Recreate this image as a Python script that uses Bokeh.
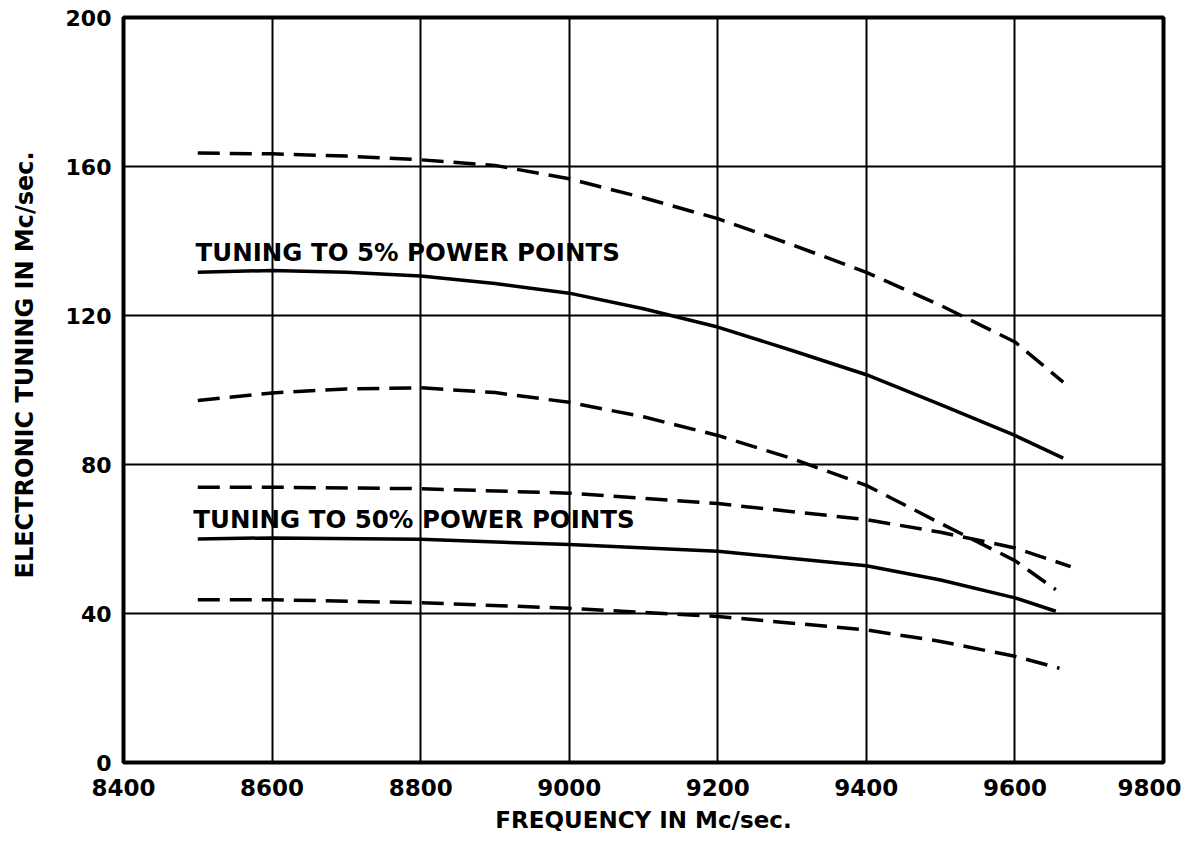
from bokeh.plotting import figure
from bokeh.models import FixedTicker, Label
from bokeh.embed import file_html
from bokeh.resources import INLINE

# ---- data ----
x_ticks = [8400, 8600, 8800, 9000, 9200, 9400, 9600, 9800]
y_ticks = [0, 40, 80, 120, 160, 200]

# 5 % power points: upper dashed, solid, lower dashed
f5_upper = [8500, 8600, 8700, 8800, 8900, 9000, 9100, 9200, 9300, 9400, 9500, 9600, 9665]
v5_upper = [163.6, 163.4, 162.8, 161.8, 160.3, 156.7, 151.6, 146.0, 139.0, 131.6, 122.7, 112.9, 102.1]

f5_mid = [8500, 8600, 8700, 8800, 8900, 9000, 9100, 9200, 9300, 9400, 9500, 9600, 9665]
v5_mid = [131.6, 132.1, 131.6, 130.6, 128.6, 126.0, 121.8, 116.9, 110.6, 104.1, 96.1, 87.8, 81.7]

f5_lower = [8500, 8600, 8700, 8800, 8900, 9000, 9100, 9200, 9300, 9400, 9500, 9600, 9655]
v5_lower = [97.2, 99.2, 100.3, 100.6, 99.3, 96.7, 92.8, 87.8, 81.6, 74.4, 64.2, 54.2, 46.4]

# 50 % power points: upper dashed, solid, lower dashed
f50_upper = [8500, 8600, 8800, 9000, 9200, 9400, 9500, 9600, 9675]
v50_upper = [73.9, 73.9, 73.5, 72.3, 69.5, 65.2, 61.8, 57.6, 52.6]

f50_mid = [8500, 8600, 8800, 9000, 9200, 9400, 9500, 9600, 9655]
v50_mid = [60.0, 60.3, 59.9, 58.5, 56.7, 52.8, 49.0, 44.2, 40.6]

f50_lower = [8500, 8600, 8800, 9000, 9200, 9400, 9500, 9600, 9660]
v50_lower = [43.7, 43.7, 42.9, 41.4, 39.2, 35.6, 32.5, 28.5, 25.3]

label_5 = "TUNING TO 5% POWER POINTS"
label_50 = "TUNING TO 50% POWER POINTS"
x_title = "FREQUENCY IN Mc/sec."
y_title = "ELECTRONIC TUNING IN Mc/sec."

FONT = "DejaVu Sans"
NBSP = "\u00a0"

p = figure(frame_width=1040, frame_height=745,
           x_range=(x_ticks[0], x_ticks[-1]), y_range=(y_ticks[0], y_ticks[-1]),
           output_backend="svg", toolbar_location=None,
           min_border_left=123, min_border_top=17, min_border_right=18, min_border_bottom=76)

p.background_fill_color = "white"
p.border_fill_color = "white"
p.outline_line_color = "black"
p.outline_line_width = 4

# grids
p.xgrid.ticker = FixedTicker(ticks=x_ticks)
p.ygrid.ticker = FixedTicker(ticks=y_ticks)
for g in (p.xgrid, p.ygrid):
    g.grid_line_color = "black"
    g.grid_line_width = 2
    g.grid_line_alpha = 1.0

# axes
p.xaxis.ticker = FixedTicker(ticks=x_ticks)
p.yaxis.ticker = FixedTicker(ticks=y_ticks)
for ax in (p.xaxis, p.yaxis):
    ax.axis_line_color = None
    ax.major_tick_line_color = None
    ax.minor_tick_line_color = None
    ax.major_tick_in = 0
    ax.major_tick_out = 0
    ax.major_label_text_font = FONT
    ax.major_label_text_font_style = "bold"
    ax.major_label_text_color = "black"
    ax.axis_label_text_font = FONT
    ax.axis_label_text_font_style = "bold"
    ax.axis_label_text_color = "black"

p.xaxis.major_label_text_font_size = "23px"
p.yaxis.major_label_text_font_size = "22px"
p.xaxis.major_label_standoff = 16
p.yaxis.major_label_standoff = 12
p.xaxis.axis_label = x_title
# leading spaces lift the rotated title a little, as in the reference
p.yaxis.axis_label = NBSP * 6 + y_title
p.xaxis.axis_label_text_font_size = "23px"
p.yaxis.axis_label_text_font_size = "24px"
p.xaxis.axis_label_standoff = 8
p.yaxis.axis_label_standoff = 24

dash = "22 10"
p.line(f5_upper, v5_upper, line_color="black", line_width=3.5, line_dash=dash)
p.line(f5_mid, v5_mid, line_color="black", line_width=3.5)
p.line(f5_lower, v5_lower, line_color="black", line_width=3.5, line_dash=dash)
p.line(f50_upper, v50_upper, line_color="black", line_width=3.5, line_dash=dash)
p.line(f50_mid, v50_mid, line_color="black", line_width=3.5)
p.line(f50_lower, v50_lower, line_color="black", line_width=3.5, line_dash=dash)

p.add_layout(Label(x=8497, y=136.9, text=label_5, text_baseline="middle",
                   text_font=FONT, text_font_style="bold", text_font_size="24.5px",
                   text_color="black"))
p.add_layout(Label(x=8494, y=65.2, text=label_50, text_baseline="middle",
                   text_font=FONT, text_font_style="bold", text_font_size="24.5px",
                   text_color="black"))

open("out.html", "w").write(file_html(p, INLINE))
